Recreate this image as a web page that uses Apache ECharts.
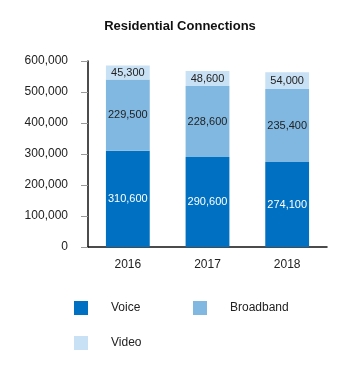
<!DOCTYPE html>
<html><head><meta charset="utf-8">
<script src="https://cdn.jsdelivr.net/npm/echarts@6/dist/echarts.min.js"></script>
<style>html,body{margin:0;padding:0;background:#fff}#c{width:360px;height:380px}</style>
</head><body><div id="c"></div>
<script>
const categories = ['2016', '2017', '2018'];
const voice = [310600, 290600, 274100];
const broadband = [229500, 228600, 235400];
const video = [45300, 48600, 54000];
const yTicks = { min: 0, max: 600000, interval: 100000 };

const font = 'Liberation Sans, Arial, Helvetica, sans-serif';
const fmt = v => v.toLocaleString('en-US');
const chart = echarts.init(document.getElementById('c'), null, { renderer: 'canvas' });
function legend(name, left, top) {
  return {
    data: [name], left: left, top: top, itemWidth: 14, itemHeight: 14, icon: 'rect',
    selectedMode: false, padding: 0,
    textStyle: { fontFamily: font, fontSize: 12, color: '#222', padding: [0, 0, 0, 18] }
  };
}
const lbl = color => ({ show: true, position: 'inside', color: color, fontFamily: font, fontSize: 11, formatter: p => fmt(p.value) });
chart.setOption({
  animation: false,
  title: { text: 'Residential Connections', left: 'center', top: 15,
    textStyle: { fontFamily: font, fontSize: 13, fontWeight: 'bold', color: '#111' } },
  grid: { left: 88, right: 33, top: 61, bottom: 133 },
  legend: [legend('Voice', 74, 301), legend('Broadband', 193, 301), legend('Video', 74, 336)],
  xAxis: {
    type: 'category', data: categories,
    axisLine: { lineStyle: { color: '#111', width: 1.5 } },
    axisTick: { show: false },
    axisLabel: { fontFamily: font, fontSize: 12, color: '#222', margin: 12 }
  },
  yAxis: {
    type: 'value', min: yTicks.min, max: yTicks.max, interval: yTicks.interval,
    axisLine: { show: true, lineStyle: { color: '#111', width: 1.5 } },
    axisTick: { show: true, length: 7, lineStyle: { color: '#999' } },
    splitLine: { show: false },
    axisLabel: { fontFamily: font, fontSize: 12, color: '#222', margin: 20, formatter: fmt }
  },
  series: [
    { name: 'Voice', type: 'bar', stack: 't', data: voice, barWidth: '55%',
      itemStyle: { color: '#0071C2' }, label: lbl('#fff') },
    { name: 'Broadband', type: 'bar', stack: 't', data: broadband,
      itemStyle: { color: '#80B8E1' }, label: lbl('#222') },
    { name: 'Video', type: 'bar', stack: 't', data: video,
      itemStyle: { color: '#C9E1F4' }, label: lbl('#222') }
  ]
});
</script></body></html>
